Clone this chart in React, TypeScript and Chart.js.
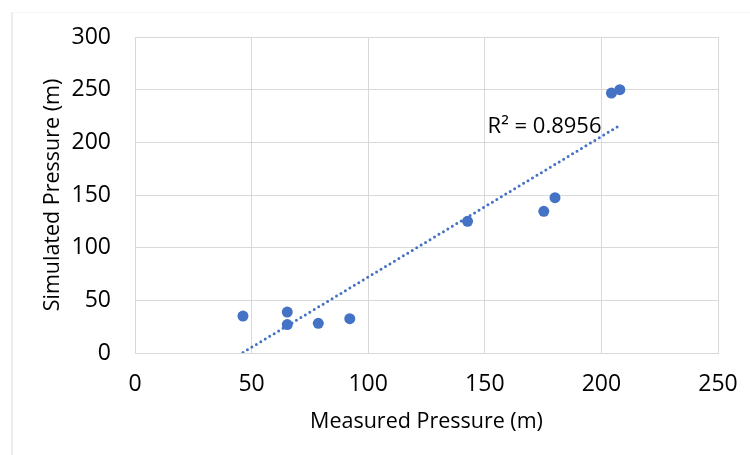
import React, { useEffect, useRef } from "react";
import { Chart, registerables } from "chart.js";

Chart.register(...registerables);

const measured = [46.3, 65.3, 65.3, 78.6, 92.1, 142.6, 175.3, 180.1, 204.3, 207.9];
const simulated = [35.1, 38.9, 27.0, 28.2, 32.6, 125.0, 134.5, 147.5, 246.8, 250.0];
const xTicks = [0, 50, 100, 150, 200, 250];
const yTicks = [0, 50, 100, 150, 200, 250, 300];
const r2Label = "R² = 0.8956";
const r2Pos = { x: 151.2, y: 214.6 };
const xTitle = "Measured Pressure (m)";
const yTitle = "Simulated Pressure (m)";

const BLUE = "#4472C4";
const GRID = "#d9d9d9";
const FONT = "'Open Sans', 'Noto Sans', sans-serif";

function linearFit(xs: number[], ys: number[]) {
  const n = xs.length;
  const mx = xs.reduce((a, b) => a + b, 0) / n;
  const my = ys.reduce((a, b) => a + b, 0) / n;
  let sxy = 0, sxx = 0;
  for (let i = 0; i < n; i++) {
    sxy += (xs[i] - mx) * (ys[i] - my);
    sxx += (xs[i] - mx) * (xs[i] - mx);
  }
  const slope = sxy / sxx;
  return { slope, intercept: my - slope * mx };
}

const r2Plugin = {
  id: "r2label",
  afterDatasetsDraw(chart: any) {
    const { ctx, scales } = chart;
    const px = scales.x.getPixelForValue(r2Pos.x);
    const py = scales.y.getPixelForValue(r2Pos.y);
    ctx.save();
    ctx.font = `22px ${FONT}`;
    ctx.fillStyle = "#000";
    ctx.textAlign = "left";
    ctx.textBaseline = "middle";
    ctx.fillText(r2Label, px, py);
    ctx.restore();
  },
};

export default function App() {
  const ref = useRef<HTMLCanvasElement>(null);
  useEffect(() => {
    if (!ref.current) return;
    const fit = linearFit(measured, simulated);
    const xmin = Math.min(...measured);
    const xmax = Math.max(...measured);
    const trend = [
      { x: xmin, y: fit.slope * xmin + fit.intercept },
      { x: xmax, y: fit.slope * xmax + fit.intercept },
    ];
    const chart = new Chart(ref.current, {
      type: "scatter",
      data: {
        datasets: [
          {
            label: "data",
            data: measured.map((x, i) => ({ x, y: simulated[i] })),
            backgroundColor: BLUE,
            borderColor: BLUE,
            pointRadius: 5.5,
            borderWidth: 0,
            order: 1,
          },
          {
            type: "line",
            label: "trend",
            data: trend,
            borderColor: BLUE,
            borderWidth: 3,
            borderDash: [0, 5.2],
            borderCapStyle: "round",
            pointRadius: 0,
            fill: false,
            order: 2,
          } as any,
        ],
      },
      options: {
        responsive: false,
        animation: false,
        layout: { padding: { left: 0, right: 32, top: 37, bottom: 0 } },
        plugins: { legend: { display: false }, tooltip: { enabled: false } },
        scales: {
          x: {
            type: "linear",
            min: 0,
            max: 250,
            afterBuildTicks: (s: any) => {
              s.ticks = xTicks.map((v) => ({ value: v }));
            },
            afterFit: (s: any) => {
              s.height = 102;
              s.paddingLeft = 0;
              s.paddingRight = 0;
            },
            grid: { color: GRID, drawTicks: false, lineWidth: 1 },
            border: { color: GRID, width: 1 },
            ticks: { color: "#000", font: { family: FONT, size: 23 }, padding: 18 },
            title: {
              display: true,
              text: xTitle,
              color: "#000",
              font: { family: FONT, size: 21.5 },
              padding: { top: 0, bottom: 20 },
            },
          },
          y: {
            type: "linear",
            min: 0,
            max: 300,
            afterBuildTicks: (s: any) => {
              s.ticks = yTicks.map((v) => ({ value: v }));
            },
            afterFit: (s: any) => {
              s.width = 135;
              s.paddingTop = 0;
              s.paddingBottom = 0;
            },
            grid: { color: GRID, drawTicks: false, lineWidth: 1 },
            border: { color: GRID, width: 1 },
            ticks: { color: "#000", font: { family: FONT, size: 23 }, padding: 24 },
            title: {
              display: true,
              text: yTitle,
              color: "#000",
              font: { family: FONT, size: 21.5 },
              padding: { top: 40, bottom: 0 },
            },
          },
        },
      },
      plugins: [r2Plugin],
    });
    return () => chart.destroy();
  }, []);

  return (
    <div style={{ position: "fixed", left: 0, top: 0, width: 750, height: 455, background: "#fff" }}>
      <div
        style={{
          position: "absolute",
          left: 11,
          top: 12,
          right: 0,
          bottom: 0,
          borderLeft: "2px solid #ececec",
          borderTop: "1px solid #f6f6f6",
        }}
      />
      <canvas ref={ref} width={750} height={455} style={{ position: "absolute", left: 0, top: 0 }} />
    </div>
  );
}
